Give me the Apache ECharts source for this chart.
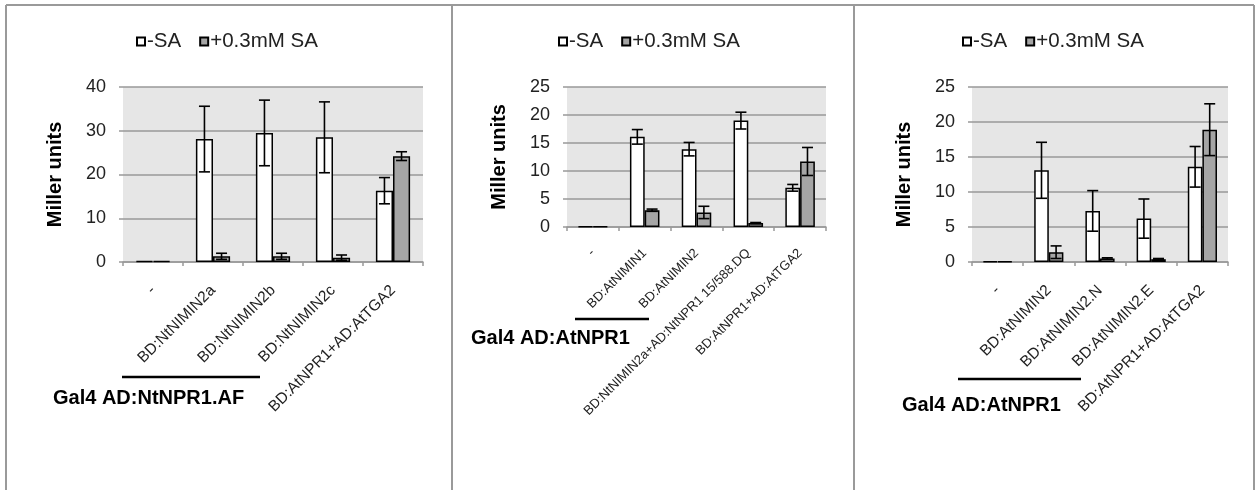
<!DOCTYPE html>
<html>
<head>
<meta charset="utf-8">
<script src="https://cdn.jsdelivr.net/npm/echarts@6/dist/echarts.min.js"></script>
<style>
  html, body { margin: 0; padding: 0; background: #fff; }
  #chart { width: 1256px; height: 490px; }
</style>
</head>
<body>
<div id="chart"></div>
<script>
// panel 1: Gal4 AD:NtNPR1.AF
const cats1 = ['-', 'BD:NtNIMIN2a', 'BD:NtNIMIN2b', 'BD:NtNIMIN2c', 'BD:AtNPR1+AD:AtTGA2'];
const noSA1 = [0.2, 28.1, 29.5, 28.5, 16.3];
const noSAErr1 = [0, 7.5, 7.5, 8.1, 3.0];
const sa1 = [0.2, 1.3, 1.3, 1.0, 24.2];
const saErr1 = [0, 0.7, 0.7, 0.6, 1.0];

// panel 2: Gal4 AD:AtNPR1
const cats2 = ['-', 'BD:AtNIMIN1', 'BD:AtNIMIN2', 'BD:NtNIMIN2a+AD:NtNPR1 15/588.DQ', 'BD:AtNPR1+AD:AtTGA2'];
const noSA2 = [0.1, 16.1, 13.9, 19.0, 7.0];
const noSAErr2 = [0, 1.3, 1.2, 1.5, 0.6];
const sa2 = [0.1, 3.0, 2.6, 0.7, 11.7];
const saErr2 = [0, 0.2, 1.1, 0.1, 2.5];

// panel 3: Gal4 AD:AtNPR1
const cats3 = ['-', 'BD:AtNIMIN2', 'BD:AtNIMIN2.N', 'BD:AtNIMIN2.E', 'BD:AtNPR1+AD:AtTGA2'];
const noSA3 = [0.1, 13.1, 7.3, 6.2, 13.6];
const noSAErr3 = [0, 4.0, 2.9, 2.8, 2.9];
const sa3 = [0.1, 1.4, 0.5, 0.4, 18.9];
const saErr3 = [0, 0.9, 0.1, 0.1, 3.7];

const yMax = [40, 25, 25];
const yStep = [10, 5, 5];
const groupLabels = ['Gal4 AD:NtNPR1.AF', 'Gal4 AD:AtNPR1', 'Gal4 AD:AtNPR1'];

const FONT = 'Liberation Sans, Arial, sans-serif';
const CAT_GAP = 0.43;

const panels = [
  { cats: cats1, noSA: noSA1, noSAErr: noSAErr1, sa: sa1, saErr: saErr1, labelSize: 15.5 },
  { cats: cats2, noSA: noSA2, noSAErr: noSAErr2, sa: sa2, saErr: saErr2, labelSize: 13 },
  { cats: cats3, noSA: noSA3, noSAErr: noSAErr3, sa: sa3, saErr: saErr3, labelSize: 15.5 },
];

const grids = [
  { left: 123, top: 87, width: 300, height: 175 },
  { left: 567, top: 87, width: 259, height: 140 },
  { left: 972, top: 87, width: 256, height: 175 },
];
const legendLeft = [136, 558, 962];

function errorRender(side) {
  return function (params, api) {
    const i = api.value(0);
    const v = api.value(1);
    const e = api.value(2);
    if (!e) return;
    const band = api.size([1, 0])[0];
    const w = band * (1 - CAT_GAP) / 2;
    const x = api.coord([i, v])[0] + side * w / 2;
    const top = api.coord([i, v + e])[1];
    const bot = api.coord([i, v - e])[1];
    const cap = 5.5;
    const style = { stroke: '#000', lineWidth: 1.6 };
    return {
      type: 'group',
      children: [
        { type: 'line', shape: { x1: x, y1: top, x2: x, y2: bot }, style },
        { type: 'line', shape: { x1: x - cap, y1: top, x2: x + cap, y2: top }, style },
        { type: 'line', shape: { x1: x - cap, y1: bot, x2: x + cap, y2: bot }, style },
      ],
    };
  };
}

const chart = echarts.init(document.getElementById('chart'));

const option = {
  animation: false,
  backgroundColor: '#fff',
  textStyle: { fontFamily: FONT },
  grid: grids.map(g => ({
    ...g,
    show: true,
    backgroundColor: '#e6e6e6',
    borderWidth: 0,
  })),
  legend: legendLeft.map(l => ({
    left: l,
    top: 31,
    padding: 0,
    itemWidth: 8,
    itemHeight: 8,
    itemGap: 18,
    icon: 'rect',
    data: ['-SA', '+0.3mM SA'],
    textStyle: { fontSize: 20.5, color: '#222', fontFamily: FONT, padding: [0, 0, 0, -3] },
  })),
  xAxis: panels.map((p, k) => ({
    type: 'category',
    gridIndex: k,
    data: p.cats,
    axisLine: { lineStyle: { color: '#999', width: 1.5 } },
    axisTick: { show: true, length: 4, lineStyle: { color: '#999', width: 1.5 } },
    axisLabel: {
      rotate: 45,
      interval: 0,
      margin: k === 1 ? 24 : 26,
      fontSize: p.labelSize,
      color: '#222',
      fontFamily: FONT,
    },
  })),
  yAxis: panels.map((p, k) => ({
    type: 'value',
    gridIndex: k,
    min: 0,
    max: yMax[k],
    interval: yStep[k],
    name: 'Miller units',
    nameLocation: 'middle',
    nameGap: 58,
    nameTextStyle: { fontSize: 20, fontWeight: 'bold', color: '#000', fontFamily: FONT },
    axisLine: { show: false },
    axisTick: { show: true, length: 4, lineStyle: { color: '#999', width: 1.5 } },
    axisLabel: { fontSize: 18, color: '#222', margin: 17, fontFamily: FONT },
    splitLine: { lineStyle: { color: '#999', width: 1.5 } },
  })),
  series: [],
  graphic: [],
};

panels.forEach((p, k) => {
  option.series.push(
    {
      name: '-SA',
      type: 'bar',
      xAxisIndex: k,
      yAxisIndex: k,
      data: p.noSA,
      barGap: '0%',
      barCategoryGap: (CAT_GAP * 100) + '%',
      itemStyle: { color: '#fff', borderColor: '#000', borderWidth: 1.5 },
    },
    {
      name: '+0.3mM SA',
      type: 'bar',
      xAxisIndex: k,
      yAxisIndex: k,
      data: p.sa,
      barGap: '0%',
      barCategoryGap: (CAT_GAP * 100) + '%',
      itemStyle: { color: '#a5a5a5', borderColor: '#000', borderWidth: 1.5 },
    },
    {
      type: 'custom',
      xAxisIndex: k,
      yAxisIndex: k,
      z: 5,
      renderItem: errorRender(-1),
      data: p.noSA.map((v, i) => [i, v, p.noSAErr[i]]),
    },
    {
      type: 'custom',
      xAxisIndex: k,
      yAxisIndex: k,
      z: 5,
      renderItem: errorRender(1),
      data: p.sa.map((v, i) => [i, v, p.saErr[i]]),
    }
  );
});

// panel frames
const frame = { stroke: '#9a9a9a', lineWidth: 2 };
option.graphic.push(
  { type: 'line', shape: { x1: 6, y1: 5, x2: 1254, y2: 5 }, style: frame, silent: true },
  { type: 'line', shape: { x1: 6, y1: 5, x2: 6, y2: 490 }, style: frame, silent: true },
  { type: 'line', shape: { x1: 452, y1: 5, x2: 452, y2: 490 }, style: frame, silent: true },
  { type: 'line', shape: { x1: 854, y1: 5, x2: 854, y2: 490 }, style: frame, silent: true },
  { type: 'line', shape: { x1: 1254, y1: 5, x2: 1254, y2: 490 }, style: frame, silent: true }
);

// group brackets under the category labels
const brackets = [
  { x1: 122, x2: 260, y: 377, tx: 53, ty: 398 },
  { x1: 575, x2: 649, y: 319, tx: 471, ty: 338 },
  { x1: 958, x2: 1081, y: 379, tx: 902, ty: 405 },
];
brackets.forEach((b, k) => {
  option.graphic.push(
    { type: 'line', shape: { x1: b.x1, y1: b.y, x2: b.x2, y2: b.y }, style: { stroke: '#000', lineWidth: 2.5 }, silent: true },
    {
      type: 'text',
      x: b.tx,
      y: b.ty,
      silent: true,
      style: {
        text: groupLabels[k],
        fill: '#000',
        font: 'bold 20px ' + FONT,
        verticalAlign: 'middle',
      },
    }
  );
});

chart.setOption(option);
</script>
</body>
</html>
